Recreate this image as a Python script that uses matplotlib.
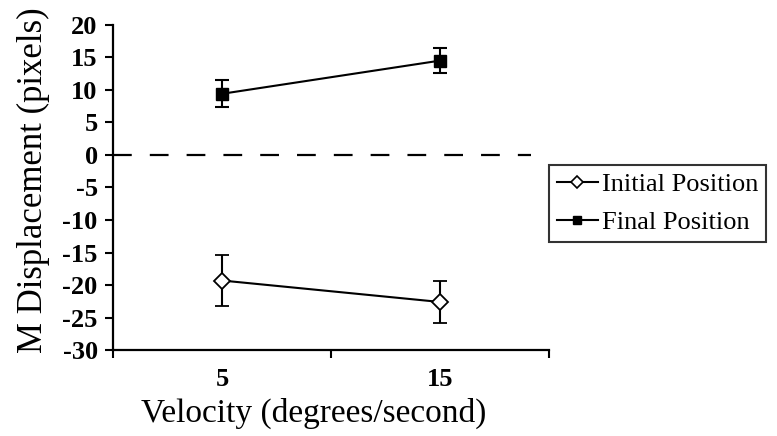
import numpy as np
import matplotlib
matplotlib.use("Agg")
import matplotlib.pyplot as plt
from matplotlib.lines import Line2D

plt.rcParams['font.family'] = ['Liberation Serif', 'DejaVu Serif']
plt.rcParams['lines.scale_dashes'] = False

velocities = ['5', '15']                       # category labels
initial_mean = [-19.3, -22.6]                  # Initial Position
initial_err = [3.9, 3.2]
final_mean = [9.4, 14.5]                       # Final Position
final_err = [2.1, 1.9]
y_ticks = list(range(-30, 21, 5))

fig = plt.figure(figsize=(7.77, 4.36), dpi=100)
ax = fig.add_axes([0.1454, 0.197, 0.561, 0.746])

x = np.arange(len(velocities))

# zero reference line
zl, = ax.plot([-0.5, 1.42], [0, 0], color='black', lw=1.6)
zl.set_dashes([13.5, 13])

ax.errorbar(x, initial_mean, yerr=initial_err, color='black', lw=1.5,
            marker='D', markersize=8, markerfacecolor='white',
            markeredgecolor='black', markeredgewidth=1.3,
            capsize=5, capthick=1.5, elinewidth=1.5)
ax.errorbar(x, final_mean, yerr=final_err, color='black', lw=1.5,
            marker='s', markersize=8, markerfacecolor='black',
            markeredgecolor='black',
            capsize=5, capthick=1.5, elinewidth=1.5)

ax.set_xlim(-0.5, 1.5)
ax.set_ylim(-30, 20)
ax.set_yticks(y_ticks)
ax.set_yticklabels([str(v) for v in y_ticks], fontsize=19, fontweight='bold')

# category ticks between groups, labels at group centres
ax.set_xticks([-0.5, 0.5, 1.5])
ax.set_xticklabels([])
ax.set_xticks(x, minor=True)
ax.set_xticklabels(velocities, minor=True, fontsize=19, fontweight='bold')
ax.tick_params(axis='x', which='minor', length=0, pad=13)
ax.tick_params(axis='y', which='major', pad=5)
ax.tick_params(axis='both', which='major', direction='out', length=6, width=1.5)

for s in ['top', 'right']:
    ax.spines[s].set_visible(False)
for s in ['left', 'bottom']:
    ax.spines[s].set_linewidth(1.6)

ax.set_xlabel('Velocity (degrees/second)', fontsize=24)
ax.xaxis.set_label_coords(0.46, -0.145)
ax.set_ylabel('M Displacement (pixels)', fontsize=25)
ax.yaxis.set_label_coords(-0.145, 0.523)

handles = [
    Line2D([], [], color='black', lw=1.5, marker='D', markersize=6,
           markerfacecolor='white', markeredgecolor='black', markeredgewidth=1.2),
    Line2D([], [], color='black', lw=1.5, marker='s', markersize=6,
           markerfacecolor='black', markeredgecolor='black'),
]
leg = fig.legend(handles, ['Initial Position', 'Final Position'],
                 loc='upper left', bbox_to_anchor=(549 / 777, 1 - 165 / 436),
                 fontsize=19, frameon=True, fancybox=False, edgecolor='black',
                 handlelength=1.55, handletextpad=0.15, borderpad=0.3,
                 labelspacing=0.55, borderaxespad=0)
leg.get_frame().set_linewidth(1.5)

fig.savefig('out.png', dpi=100)
